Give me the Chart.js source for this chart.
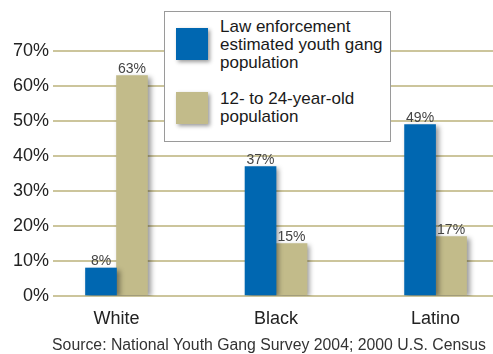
<!DOCTYPE html>
<html>
<head>
<meta charset="utf-8">
<script src="https://cdn.jsdelivr.net/npm/chart.js@4"></script>
<style>
  body { margin: 0; background: #fff; }
  #wrap { position: relative; width: 493px; height: 354px; }
  #legend {
    position: absolute; left: 164px; top: 11px; width: 227px; height: 131px;
    box-sizing: border-box; border: 1px solid #9a9a9a; background: #fff;
    font-family: "Liberation Sans", Arial, sans-serif; font-size: 17px; line-height: 18px; color: #1a1a1a;
  }
  .sw { position: absolute; left: 11px; width: 32px; height: 32px; box-shadow: 2px 2px 4px rgba(0,0,0,0.4); }
  .txt { position: absolute; left: 55px; }
  #source {
    position: absolute; left: 269px; top: 336px; transform: translateX(-50%); white-space: nowrap;
    font-family: "Liberation Sans", Arial, sans-serif; font-size: 15.8px; line-height: 18px; color: #333;
  }
</style>
</head>
<body>
<div id="wrap">
  <canvas id="gangChart"></canvas>
  <div id="legend"></div>
  <div id="source">Source: National Youth Gang Survey 2004; 2000 U.S. Census</div>
</div>
<script>
// data
const categories = ['White', 'Black', 'Latino'];
const gangShare = [8, 37, 49];    // law enforcement estimated youth gang population
const youthShare = [63, 15, 17];  // 12- to 24-year-old population
const yTicks = [0, 10, 20, 30, 40, 50, 60, 70];
const seriesNames = [['Law enforcement', 'estimated youth gang', 'population'], ['12- to 24-year-old', 'population']];
const seriesColors = ['#0067b1', '#c2bb8a'];

// legend as html, drawn over the chart
const legend = document.getElementById('legend');
const swTop = [16, 80];
const txtTop = [6, 78];
seriesNames.forEach((lines, i) => {
  const sw = document.createElement('div');
  sw.className = 'sw';
  sw.style.top = swTop[i] + 'px';
  sw.style.background = seriesColors[i];
  legend.appendChild(sw);
  const t = document.createElement('div');
  t.className = 'txt';
  t.style.top = txtTop[i] + 'px';
  t.innerHTML = lines.join('<br>');
  legend.appendChild(t);
});

// shadow under bars + value labels on top
const barExtras = {
  id: 'barExtras',
  beforeDatasetsDraw(chart) {
    const ctx = chart.ctx;
    ctx.save();
    ctx.shadowColor = 'rgba(0,0,0,0.4)';
    ctx.shadowBlur = 5;
    ctx.shadowOffsetX = 3;
    ctx.shadowOffsetY = 2;
  },
  afterDatasetsDraw(chart) {
    const ctx = chart.ctx;
    ctx.restore();
    ctx.save();
    ctx.font = '14px "Liberation Sans", Arial, sans-serif';
    ctx.fillStyle = '#444';
    ctx.textAlign = 'center';
    ctx.textBaseline = 'alphabetic';
    chart.data.datasets.forEach((ds, di) => {
      chart.getDatasetMeta(di).data.forEach((bar, i) => {
        ctx.fillText(ds.data[i].y + '%', bar.x, bar.y - 3);
      });
    });
    ctx.restore();
  }
};

const ctx = document.getElementById('gangChart').getContext('2d');
const gangChart = new Chart(ctx, {
  type: 'bar',
  data: {
    datasets: [
      { label: seriesNames[0].join(' '), data: categories.map((c, i) => ({ x: i, y: gangShare[i] })), backgroundColor: seriesColors[0] },
      { label: seriesNames[1].join(' '), data: categories.map((c, i) => ({ x: i, y: youthShare[i] })), backgroundColor: seriesColors[1] }
    ]
  },
  options: {
    responsive: true,
    maintainAspectRatio: false,
    animation: false,
    barThickness: 31,
    layout: { padding: { top: 51, left: 0, right: 0, bottom: 0 } },
    plugins: {
      legend: { display: false },
      tooltip: { enabled: false }
    },
    scales: {
      x: {
        type: 'linear',
        offset: false,
        min: -0.398,
        max: 2.36,
        grid: { display: false, drawTicks: false },
        border: { display: false },
        afterBuildTicks: (scale) => { scale.ticks = categories.map((c, i) => ({ value: i })); },
        afterFit: (scale) => { scale.height = 58; },
        ticks: {
          padding: 12,
          color: '#222',
          font: { family: '"Liberation Sans", Arial, sans-serif', size: 18 },
          callback: (v) => categories[v]
        }
      },
      y: {
        min: 0,
        max: 70,
        grid: { color: '#ccc59c', lineWidth: 2, drawTicks: false },
        border: { display: false },
        afterBuildTicks: (scale) => { scale.ticks = yTicks.map(v => ({ value: v })); },
        afterFit: (scale) => { scale.width = 53; },
        ticks: {
          padding: 4,
          color: '#222',
          font: { family: '"Liberation Sans", Arial, sans-serif', size: 18 },
          callback: (v) => v + '%'
        }
      }
    }
  },
  plugins: [barExtras]
});
</script>
</body>
</html>
